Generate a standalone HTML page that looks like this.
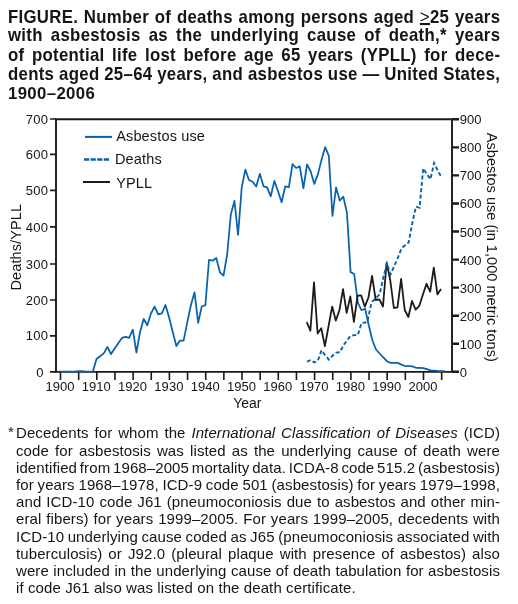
<!DOCTYPE html><html><head><meta charset="utf-8"><style>
html,body{margin:0;padding:0;background:#fff;}
body{width:518px;height:604px;position:relative;overflow:hidden;color:#161415;font-family:"Liberation Sans",sans-serif;}
#w{position:absolute;left:0;top:0;width:518px;height:604px;will-change:transform;background:#fff;}
.t{position:absolute;left:8px;width:492.3px;font-weight:bold;font-size:16.8px;line-height:19px;white-space:nowrap;text-align:justify;text-align-last:justify;}
.f{position:absolute;left:16px;width:484px;font-size:15px;letter-spacing:0.1px;line-height:17px;white-space:nowrap;text-align:justify;text-align-last:justify;}
.l{text-align-last:left;}
.ast{position:absolute;left:8px;font-size:15px;line-height:17px;}
</style></head><body><div id="w">
<div class="t" style="top:7.6px;word-spacing:0px;letter-spacing:0.3px;transform-origin:0 15.3px;transform:scaleY(1.06)">FIGURE. Number of deaths among persons aged <u style='font-weight:normal;text-decoration-thickness:1.9px;text-underline-offset:0.3px'>&gt;</u>25 years</div>
<div class="t" style="top:26.4px;word-spacing:0px;letter-spacing:0.3px;transform-origin:0 15.3px;transform:scaleY(1.06)">with asbestosis as the underlying cause of death,* years</div>
<div class="t" style="top:45.5px;word-spacing:0px;letter-spacing:0.3px;transform-origin:0 15.3px;transform:scaleY(1.06)">of potential life lost before age 65 years (YPLL) for dece-</div>
<div class="t" style="top:64.5px;word-spacing:-0.212px;letter-spacing:0.3px;transform-origin:0 15.3px;transform:scaleY(1.06)">dents aged 25–64 years, and asbestos use — United States,</div>
<div class="t l" style="top:84.3px;word-spacing:0px;letter-spacing:0.35px">1900–2006</div>
<svg width="518" height="604" viewBox="0 0 518 604" style="position:absolute;left:0;top:0">
<g stroke="#1c1a1b" fill="none" stroke-width="1.9">
<path d="M56 119.25 H452 M56 118.3 V372.8 M452 118.3 V372.8 M56 371.85 H452"/>
</g>
<path d="M50 371.90 H56 M50 335.80 H56 M50 300.00 H56 M50 264.00 H56 M50 226.90 H56 M50 190.40 H56 M50 154.30 H56 M50 119.00 H56" stroke="#1c1a1b" stroke-width="1.7" fill="none"/>
<path d="M452 371.80 H459 M452 343.74 H459 M452 315.69 H459 M452 287.63 H459 M452 259.58 H459 M452 231.52 H459 M452 203.46 H459 M452 175.41 H459 M452 147.35 H459 M452 119.30 H459" stroke="#1c1a1b" stroke-width="2.4" fill="none"/>
<path d="M60.50 372 V380 M78.65 372 V380 M96.80 372 V380 M114.95 372 V380 M133.10 372 V380 M151.25 372 V380 M169.40 372 V380 M187.55 372 V380 M205.70 372 V380 M223.85 372 V380 M242.00 372 V380 M260.15 372 V380 M278.30 372 V380 M296.45 372 V380 M314.60 372 V380 M332.75 372 V380 M350.90 372 V380 M369.05 372 V380 M387.20 372 V380 M405.35 372 V380 M423.50 372 V380 M441.65 372 V380" stroke="#1c1a1b" stroke-width="1.6" fill="none"/>
<g font-family="Liberation Sans" font-size="13" fill="#161415" letter-spacing="0.25">
<text x="48.2" y="340.40" text-anchor="end">100</text>
<text x="48.2" y="304.60" text-anchor="end">200</text>
<text x="48.2" y="268.60" text-anchor="end">300</text>
<text x="48.2" y="231.50" text-anchor="end">400</text>
<text x="48.2" y="195.00" text-anchor="end">500</text>
<text x="48.2" y="158.90" text-anchor="end">600</text>
<text x="48.2" y="123.60" text-anchor="end">700</text>
<text x="43.7" y="376.50" text-anchor="end">0</text>
</g>
<g font-family="Liberation Sans" font-size="13" fill="#161415" letter-spacing="0.05">
<text x="459.8" y="376.80">0</text>
<text x="459.8" y="348.74">100</text>
<text x="459.8" y="320.69">200</text>
<text x="459.8" y="292.63">300</text>
<text x="459.8" y="264.58">400</text>
<text x="459.8" y="236.52">500</text>
<text x="459.8" y="208.46">600</text>
<text x="459.8" y="180.41">700</text>
<text x="459.8" y="152.35">800</text>
<text x="459.8" y="124.30">900</text>
</g>
<g font-family="Liberation Sans" font-size="13" fill="#161415" letter-spacing="0.05">
<text x="60.00" y="390.8" text-anchor="middle">1900</text>
<text x="96.30" y="390.8" text-anchor="middle">1910</text>
<text x="132.60" y="390.8" text-anchor="middle">1920</text>
<text x="168.90" y="390.8" text-anchor="middle">1930</text>
<text x="205.20" y="390.8" text-anchor="middle">1940</text>
<text x="241.50" y="390.8" text-anchor="middle">1950</text>
<text x="277.80" y="390.8" text-anchor="middle">1960</text>
<text x="314.10" y="390.8" text-anchor="middle">1970</text>
<text x="350.40" y="390.8" text-anchor="middle">1980</text>
<text x="386.70" y="390.8" text-anchor="middle">1990</text>
<text x="423.00" y="390.8" text-anchor="middle">2000</text>
</g>
<g font-family="Liberation Sans" font-size="14.5" fill="#161415">
<text x="247.3" y="407.8" text-anchor="middle" font-size="14">Year</text>
<text transform="translate(20.5 247.2) rotate(-90)" text-anchor="middle" letter-spacing="0.1">Deaths/YPLL</text>
<text transform="translate(487 247.3) rotate(90)" text-anchor="middle" letter-spacing="0.05">Asbestos use (in 1,000 metric tons)</text>
</g>
<path d="M85 136.9 H112" stroke="#0862ad" stroke-width="2" fill="none"/>
<path d="M84 159.5 H109" stroke="#0862ad" stroke-width="2.6" stroke-dasharray="5.2 1.4" fill="none"/>
<path d="M83 182 H110" stroke="#1c1a1b" stroke-width="2" fill="none"/>
<g font-family="Liberation Sans" font-size="14.5" fill="#161415" letter-spacing="0.15">
<text x="116.2" y="141.3">Asbestos use</text>
<text x="115" y="164.2">Deaths</text>
<text x="116.2" y="188.2">YPLL</text>
</g>
<path d="M60.20 371.70 L63.83 371.70 L67.46 371.70 L71.09 371.70 L74.72 371.70 L78.35 371.10 L81.98 371.10 L85.61 371.70 L89.24 371.70 L92.87 371.60 L96.50 359.00 L100.13 356.20 L103.76 353.40 L107.39 347.00 L111.02 354.10 L114.65 348.50 L118.28 343.20 L121.91 337.90 L125.54 336.80 L129.17 337.90 L132.80 329.70 L136.43 352.50 L140.06 332.00 L143.69 318.90 L147.32 325.30 L150.95 313.50 L154.58 306.60 L158.21 314.30 L161.84 313.30 L165.47 305.00 L169.10 317.50 L172.73 332.00 L176.36 346.00 L179.99 340.60 L183.62 340.60 L187.25 322.30 L190.88 305.20 L194.51 292.30 L198.14 322.80 L201.77 306.50 L205.40 305.10 L209.03 259.80 L212.66 260.70 L216.29 258.00 L219.92 272.30 L223.55 275.60 L227.18 254.50 L230.81 214.50 L234.44 200.90 L238.07 234.90 L241.70 187.70 L245.33 169.60 L248.96 180.00 L252.59 181.80 L256.22 186.50 L259.85 173.80 L263.48 186.30 L267.11 187.40 L270.74 196.30 L274.37 180.90 L278.00 191.30 L281.63 202.30 L285.26 186.30 L288.89 187.10 L292.52 164.10 L296.15 168.00 L299.78 166.40 L303.41 188.30 L307.04 164.50 L310.67 171.50 L314.30 183.90 L317.93 174.40 L321.56 159.60 L325.19 147.10 L328.82 155.80 L332.45 216.00 L336.08 187.50 L339.71 200.60 L343.34 196.60 L346.97 213.10 L350.60 272.10 L354.23 274.00 L357.86 302.80 L361.49 310.20 L365.12 308.70 L368.75 325.20 L372.38 340.30 L376.01 349.50 L379.64 353.50 L383.27 357.30 L386.90 361.20 L390.53 362.90 L394.16 362.90 L397.79 362.90 L401.42 364.60 L405.05 366.00 L408.68 366.00 L412.31 366.40 L415.94 367.80 L419.57 367.80 L423.20 368.10 L426.83 369.10 L430.46 370.40 L434.09 370.50 L437.72 370.90 L441.35 371.10 L444.98 371.20" stroke="#0862ad" stroke-width="1.75" fill="none" stroke-linejoin="round"/>
<path d="M306.74 322.20 L310.37 330.70 L314.00 282.40 L317.63 333.50 L321.26 328.30 L324.89 346.10 L328.52 326.30 L332.15 306.60 L335.78 320.60 L339.41 310.30 L343.04 289.10 L346.67 312.90 L350.30 296.40 L353.93 321.90 L357.56 295.70 L361.19 295.50 L364.82 306.60 L368.45 297.50 L372.08 275.80 L375.71 300.00 L379.34 299.40 L382.97 306.50 L386.60 262.80 L390.23 280.00 L393.86 308.00 L397.49 307.40 L401.12 278.80 L404.75 310.00 L408.38 317.00 L412.01 301.00 L415.64 309.70 L419.27 305.90 L422.90 294.50 L426.53 283.80 L430.16 291.70 L433.79 267.60 L437.42 294.40 L441.05 289.10" stroke="#1c1a1b" stroke-width="1.8" fill="none" stroke-linejoin="round"/>
<path d="M307.04 361.70 L310.67 360.00 L314.30 362.50 L317.93 360.40 L321.56 350.30 L325.19 355.20 L328.82 359.60 L332.45 355.80 L336.08 352.60 L339.71 352.30 L343.34 345.50 L346.97 340.50 L350.60 335.80 L354.23 335.10 L357.86 335.00 L361.49 323.00 L365.12 322.50 L367.30 322.00 L370.93 305.00 L372.38 301.50 L376.01 298.00 L379.64 294.30 L383.27 277.80 L386.90 263.50 L390.53 274.30 L394.16 266.30 L397.79 258.00 L401.42 248.50 L405.05 245.20 L408.68 242.40 L412.31 223.00 L415.94 206.60 L419.57 207.80 L423.20 168.40 L426.83 174.00 L430.46 179.20 L434.09 163.00 L437.72 170.50 L441.35 177.00" stroke="#0862ad" stroke-width="1.9" fill="none" stroke-dasharray="4 2.4"/>
</svg>
<div class="ast" style="top:423.3px">*</div>
<div class="f" style="top:424.3px;word-spacing:0px">Decedents for whom the <i>International Classification of Diseases</i> (ICD)</div>
<div class="f" style="top:441.5px;word-spacing:0px">code for asbestosis was listed as the underlying cause of death were</div>
<div class="f" style="top:458.7px;word-spacing:-1.539px">identified from 1968–2005 mortality data. ICDA-8 code 515.2 (asbestosis)</div>
<div class="f" style="top:475.9px;word-spacing:-0.595px">for years 1968–1978, ICD-9 code 501 (asbestosis) for years 1979–1998,</div>
<div class="f" style="top:493.1px;word-spacing:0px">and ICD-10 code J61 (pneumoconiosis due to asbestos and other min-</div>
<div class="f" style="top:510.3px;word-spacing:0px">eral fibers) for years 1999–2005. For years 1999–2005, decedents with</div>
<div class="f" style="top:527.5px;word-spacing:-0.76px">ICD-10 underlying cause coded as J65 (pneumoconiosis associated with</div>
<div class="f" style="top:544.7px;word-spacing:0px">tuberculosis) or J92.0 (pleural plaque with presence of asbestos) also</div>
<div class="f" style="top:561.9px;word-spacing:0px">were included in the underlying cause of death tabulation for asbestosis</div>
<div class="f l" style="top:579.1px;word-spacing:0px">if code J61 also was listed on the death certificate.</div>
</div></body></html>
